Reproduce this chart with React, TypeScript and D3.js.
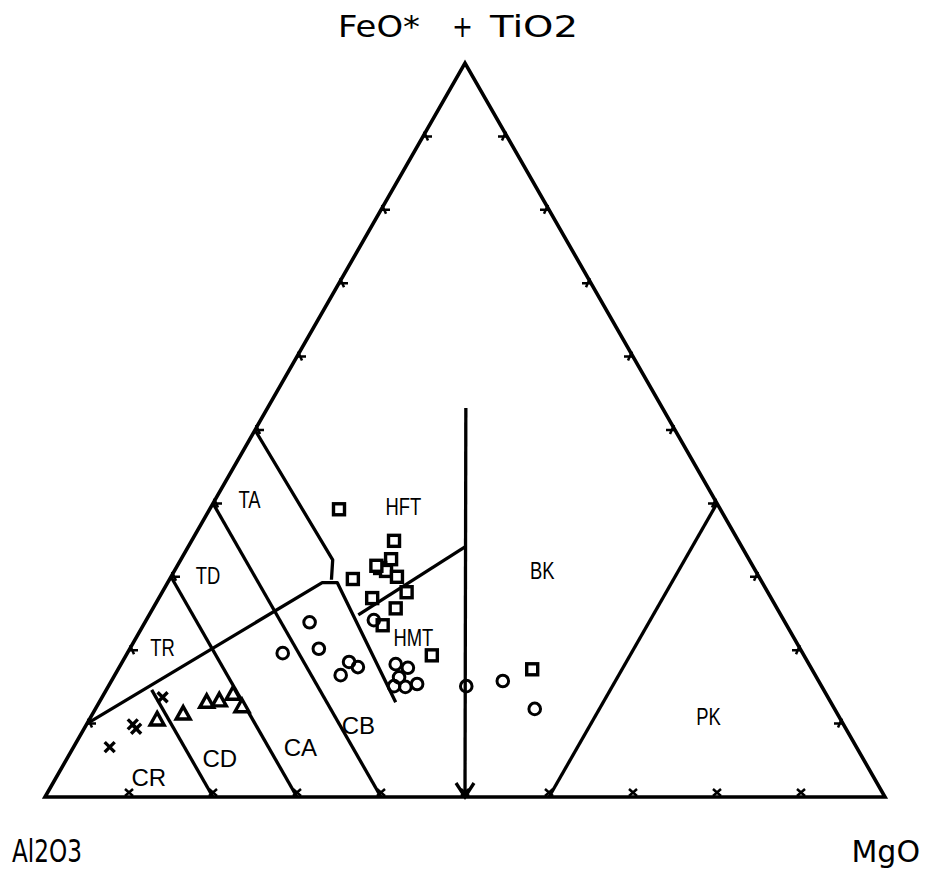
import React, { useEffect, useRef } from 'react';
import * as d3 from 'd3';

// all compositions are cation percent: [Al, Fe+Ti, Mg]
type Tern = [number, number, number];

const squares: Tern[] = [
  [45.4, 39.2, 15.4], [41.0, 34.9, 24.1], [42.6, 32.4, 25.0], [44.5, 31.2, 24.3],
  [44.0, 30.8, 25.2], [44.8, 31.5, 23.7], [43.1, 30.0, 26.9], [48.5, 29.7, 21.8],
  [43.0, 27.9, 29.1], [47.5, 27.1, 25.4], [45.4, 25.7, 28.9], [48.1, 23.4, 28.5],
  [44.3, 19.3, 36.4], [33.3, 17.4, 49.3],
];

const circles: Tern[] = [
  [56.6, 23.8, 19.6], [48.8, 24.1, 27.1], [61.9, 19.6, 18.5], [57.3, 20.2, 22.5],
  [54.6, 18.4, 27.0], [53.9, 17.7, 28.4], [56.5, 16.6, 26.9], [49.2, 18.1, 32.7],
  [48.0, 17.6, 34.4], [49.7, 16.3, 34.0], [50.9, 15.1, 34.0], [49.6, 15.0, 35.4],
  [48.0, 15.4, 36.6], [42.3, 15.1, 42.6], [37.6, 15.8, 46.6], [35.7, 12.0, 52.3],
];

const triangles: Tern[] = [
  [81.4, 10.5, 8.1], [77.9, 11.3, 10.8], [74.3, 12.9, 12.8],
  [72.7, 13.1, 14.2], [70.6, 14.0, 15.4], [70.4, 12.3, 17.3],
];

const crosses: Tern[] = [
  [79.2, 13.6, 7.2], [84.6, 9.9, 5.5], [84.5, 9.3, 6.2], [88.9, 6.8, 4.3],
];

// field boundaries
const thCaLine: Tern[] = [[90, 10, 0], [52.4, 29.2, 18.4], [50.6, 29.2, 20.2], [51.8, 12.9, 35.3]];
const taHftLine: Tern[] = [[50, 50, 0], [49.6, 32.3, 18.1], [51.1, 29.6, 19.3]];
const hftHmtLine: Tern[] = [[50.3, 24.8, 24.9], [32.9, 34.1, 33.0]];
const komatiiteLine: Tern[] = [[23.4, 53.0, 23.6], [50, 0, 50]];
const pkBkLine: Tern[] = [[40, 0, 60], [0, 40, 60]];
const line70: Tern[] = [[70, 30, 0], [70, 0, 30]];
const line60: Tern[] = [[60, 40, 0], [60, 0, 40]];
const line80: Tern[] = [[80, 14.6, 5.4], [80, 0, 20]];

const fieldNames = ['TA', 'HFT', 'TD', 'TR', 'HMT', 'BK', 'PK', 'CB', 'CA', 'CD', 'CR'];
const fieldAt: Tern[] = [
  [55.4, 40.5, 4.1], [37.6, 39.5, 22.9], [65.5, 30.2, 4.3], [75.8, 20.4, 3.8],
  [45.3, 21.7, 33.0], [25.4, 30.8, 43.8], [15.5, 11.0, 73.5],
  [57.8, 9.8, 32.4], [66.2, 6.8, 27.0], [76.6, 5.2, 18.2], [86.3, 2.7, 11.0],
];

const tickValues = [10, 20, 30, 40, 50, 60, 70, 80, 90];

const App = () => {
  const ref = useRef<SVGSVGElement | null>(null);

  useEffect(() => {
    const svg = d3.select(ref.current);
    svg.selectAll('*').remove();

    const mScale = d3.scaleLinear().domain([0, 100]).range([45, 885]);
    const fScale = d3.scaleLinear().domain([0, 100]).range([797, 63]);
    const project = (d: Tern): [number, number] => [mScale(d[2] + d[1] / 2), fScale(d[1])];
    const line = d3.line<Tern>().x(d => project(d)[0]).y(d => project(d)[1]);

    const g = svg.append('g').attr('fill', 'none').attr('stroke', '#000');

    // outline
    g.append('path')
      .attr('d', line([[100, 0, 0], [0, 100, 0], [0, 0, 100]]) + 'Z')
      .attr('stroke-width', 3.6)
      .attr('stroke-linejoin', 'miter');

    // ticks
    tickValues.forEach(v => {
      const [lx, ly] = project([100 - v, v, 0]);
      g.append('path').attr('d', `M${lx},${ly}L${lx + 9},${ly}M${lx + 1},${ly - 5}L${lx + 5},${ly + 4}`).attr('stroke-width', 2.5);
      const [rx, ry] = project([0, v, 100 - v]);
      g.append('path').attr('d', `M${rx},${ry}L${rx - 9},${ry}M${rx - 1},${ry - 5}L${rx - 5},${ry + 4}`).attr('stroke-width', 2.5);
      const [bx, by] = project([100 - v, 0, v]);
      g.append('path').attr('d', `M${bx - 4},${by - 8}L${bx + 4},${by - 1}M${bx + 4},${by - 8}L${bx - 4},${by - 1}`).attr('stroke-width', 2.5);
    });

    // boundaries
    [thCaLine, taHftLine, hftHmtLine, komatiiteLine, pkBkLine, line70, line60, line80].forEach(l => {
      g.append('path').attr('d', line(l)).attr('stroke-width', 3.3).attr('stroke-linejoin', 'round');
    });
    const [ax, ay] = project(komatiiteLine[1]);
    g.append('path').attr('d', `M${ax - 9},${ay - 14}L${ax},${ay}L${ax + 9},${ay - 14}`).attr('stroke-width', 3.3);

    // samples
    g.selectAll('rect.sq').data(squares).enter().append('rect')
      .attr('x', d => project(d)[0] - 5.5).attr('y', d => project(d)[1] - 5.5)
      .attr('width', 11).attr('height', 11).attr('stroke-width', 3.4).attr('fill', '#fff');
    g.selectAll('circle').data(circles).enter().append('circle')
      .attr('cx', d => project(d)[0]).attr('cy', d => project(d)[1])
      .attr('r', 5.8).attr('stroke-width', 3).attr('fill', 'none');
    g.selectAll('path.tri').data(triangles).enter().append('path')
      .attr('d', d => { const [x, y] = project(d); return `M${x},${y - 7.5}L${x + 7},${y + 5}L${x - 7},${y + 5}Z`; })
      .attr('stroke-width', 3.4).attr('fill', '#fff');
    g.selectAll('path.x').data(crosses).enter().append('path')
      .attr('d', d => { const [x, y] = project(d); return `M${x - 5},${y - 5}L${x + 5},${y + 5}M${x + 5},${y - 5}L${x - 5},${y + 5}`; })
      .attr('stroke-width', 3.4);

    // field labels
    const labels = svg.append('g').attr('font-family', '"Liberation Sans", Arial, sans-serif').attr('fill', '#000');
    fieldNames.forEach((name, i) => {
      const [x, y] = project(fieldAt[i]);
      const calc = name[0] === 'C';
      labels.append('text')
        .attr('transform', `translate(${x},${y}) scale(${calc ? 1 : 0.8},1)`)
        .attr('text-anchor', 'middle').attr('dy', '0.36em')
        .attr('font-size', calc ? 24 : 23)
        .text(name);
    });

    // corner labels
    const corner = svg.append('g').attr('font-family', '"DejaVu Sans", sans-serif').attr('fill', '#000');
    corner.append('text').attr('x', 338).attr('y', 37).attr('font-size', 30)
      .attr('textLength', 82).attr('lengthAdjust', 'spacingAndGlyphs').text('FeO*');
    corner.append('text').attr('x', 452).attr('y', 37).attr('font-size', 30)
      .attr('textLength', 21).attr('lengthAdjust', 'spacingAndGlyphs').text('+');
    corner.append('text').attr('x', 490).attr('y', 37).attr('font-size', 30)
      .attr('textLength', 88).attr('lengthAdjust', 'spacingAndGlyphs').text('TiO2');
    corner.append('text').attr('x', 12).attr('y', 862).attr('font-size', 32)
      .attr('textLength', 70).attr('lengthAdjust', 'spacingAndGlyphs').text('Al2O3');
    corner.append('text').attr('x', 920).attr('y', 862).attr('font-size', 30)
      .attr('text-anchor', 'end').text('MgO');
  }, []);

  return (
    <svg ref={ref} width={932} height={876}
      style={{ position: 'absolute', left: 0, top: 0, background: '#fff' }} />
  );
};

export default App;
